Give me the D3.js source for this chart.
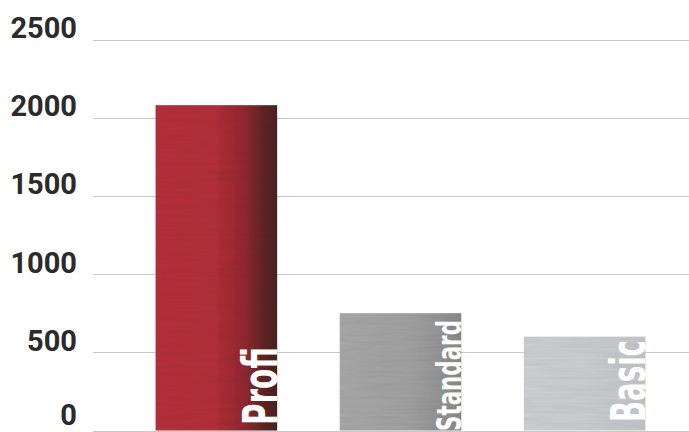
<!DOCTYPE html>
<html><head><meta charset="utf-8">
<script src="https://cdn.jsdelivr.net/npm/d3@7"></script>
<style>html,body{margin:0;padding:0;background:#fff;}svg{display:block;}</style>
</head><body>
<svg id="c" width="689" height="432"></svg>
<script>
const categories = ["Profi", "Standard", "Basic"];
const values = [2080, 750, 600];
const tickValues = [0, 500, 1000, 1500, 2000, 2500];
const labelSizes = [48, 34, 48];

const svg = d3.select("#c");
const W = 689, H = 432;
const y = d3.scaleLinear().domain([0, 2500]).range([430.5, 39.5]);
const x = d3.scaleBand().domain(categories).range([93, 708]).paddingInner(0.34).paddingOuter(0.34);

const defs = svg.append("defs");
const grads = [
  [["0%", "#b8323c"], ["50%", "#b3303a"], ["72%", "#962b32"], ["88%", "#652828"], ["100%", "#4a2624"]],
  [["0%", "#aaaaaa"], ["55%", "#a4a4a4"], ["82%", "#979797"], ["100%", "#8a8a8a"]],
  [["0%", "#d0d1d5"], ["50%", "#cecfd3"], ["100%", "#c6c7cb"]]
];
grads.forEach((g, i) => {
  const lg = defs.append("linearGradient").attr("id", "g" + i).attr("x1", 0).attr("x2", 1).attr("y1", 0).attr("y2", 0);
  g.forEach(s => lg.append("stop").attr("offset", s[0]).attr("stop-color", s[1]));
});
const f = defs.append("filter").attr("id", "tex").attr("x", 0).attr("y", 0).attr("width", 1).attr("height", 1);
f.append("feTurbulence").attr("type", "fractalNoise").attr("baseFrequency", "0.02 0.35").attr("numOctaves", 2).attr("seed", 3).attr("result", "n");
f.append("feColorMatrix").attr("in", "n").attr("type", "matrix")
  .attr("values", "0 0 0 0 0  0 0 0 0 0  0 0 0 0 0  0 0 0 0.16 0").attr("result", "a");
f.append("feComposite").attr("in", "a").attr("in2", "SourceGraphic").attr("operator", "in").attr("result", "d");
f.append("feMerge").selectAll("feMergeNode").data(["SourceGraphic", "d"]).enter().append("feMergeNode").attr("in", d => d);

// gridlines
svg.append("g").selectAll("line").data(tickValues).enter().append("line")
  .attr("x1", 93).attr("x2", W)
  .attr("y1", d => Math.round(y(d)) + 0.5).attr("y2", d => Math.round(y(d)) + 0.5)
  .attr("stroke", "#c9c9c9").attr("stroke-width", 1.2);

// tick labels
svg.append("g").selectAll("text").data(tickValues).enter().append("text")
  .attr("x", 77).attr("y", d => Math.min(y(d) - 1.5, 425))
  .attr("text-anchor", "end")
  .attr("font-family", "Roboto, 'Liberation Sans', sans-serif")
  .attr("font-weight", 700).attr("font-size", 29).attr("fill", "#2b2b2b")
  .text(d => d);

// bars
svg.append("g").selectAll("rect").data(values).enter().append("rect")
  .attr("x", (d, i) => x(categories[i]))
  .attr("width", x.bandwidth())
  .attr("y", d => y(d))
  .attr("height", d => y(0) - y(d))
  .attr("fill", (d, i) => "url(#g" + i + ")")
  .attr("filter", "url(#tex)");

// rotated labels (baseline at the bar's right edge, reading bottom-to-top)
const lens = [78, 111, 82];
const starts = [425, 431, 422];
svg.append("g").selectAll("text").data(categories).enter().append("text")
  .attr("transform", (d, i) => {
    const bx = x(d) + x.bandwidth() - 0.5;
    return `translate(${bx},${starts[i]}) rotate(-90)`;
  })
  .attr("font-family", "'Liberation Sans Narrow', 'DejaVu Sans Condensed', sans-serif")
  .attr("font-weight", 700)
  .attr("font-size", (d, i) => labelSizes[i])
  .attr("textLength", (d, i) => lens[i])
  .attr("lengthAdjust", "spacingAndGlyphs")
  .attr("fill", "#ffffff")
  .text(d => d);
</script>
</body></html>
